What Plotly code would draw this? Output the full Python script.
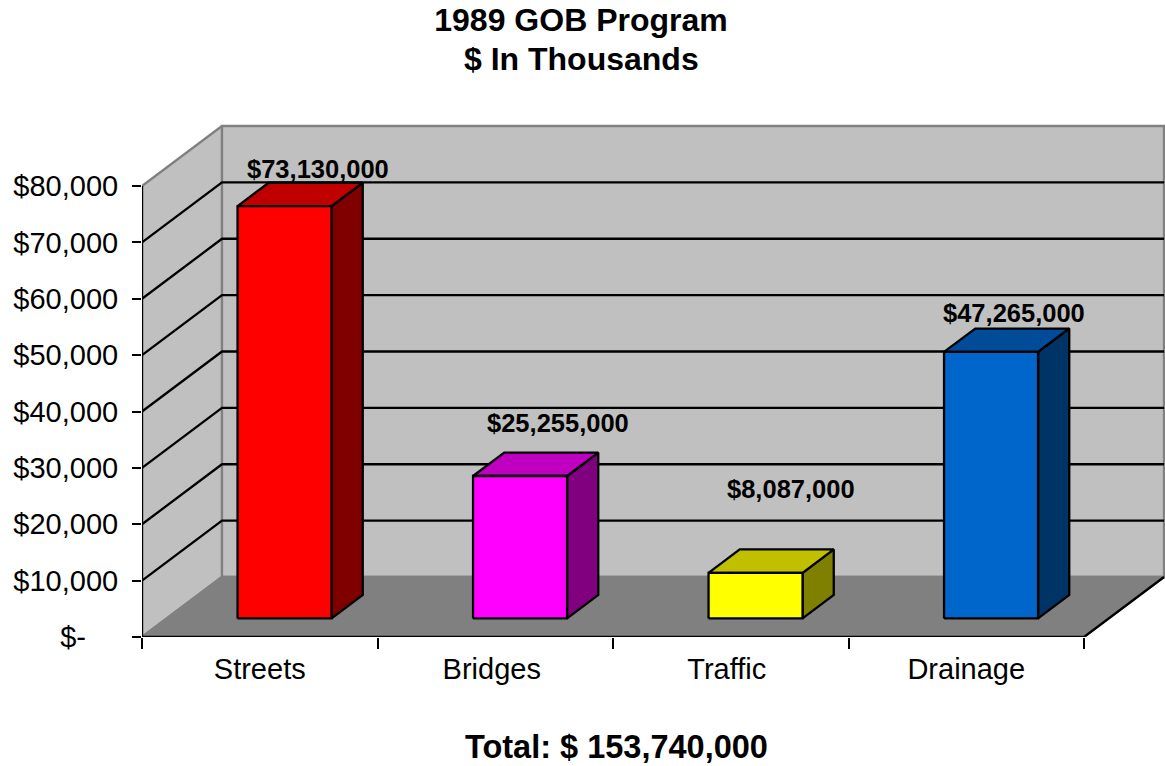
import plotly.graph_objects as go

# ---- data (values in $ thousands) ----
categories = ["Streets", "Bridges", "Traffic", "Drainage"]
values = [73130, 25255, 8087, 47265]
value_labels = ["$73,130,000", "$25,255,000", "$8,087,000", "$47,265,000"]
y_ticks = [0, 10000, 20000, 30000, 40000, 50000, 60000, 70000, 80000]
y_tick_labels = ["$-\u00a0\u00a0\u00a0\u00a0", "$10,000", "$20,000", "$30,000", "$40,000",
                 "$50,000", "$60,000", "$70,000", "$80,000"]
front_colors = ["#FF0000", "#FF00FF", "#FFFF00", "#0066CC"]
top_colors = ["#C00000", "#C000C0", "#C0C000", "#004C99"]
side_colors = ["#800000", "#800080", "#808000", "#003366"]
label_xshift = [2, 7, 4, -8]
label_yshift = [14, 30, 60, 16]
category_label_pos = [0.5, 1.485, 2.483, 3.5]
title_line_1 = "1989 GOB Program"
title_line_2 = "$ In Thousands"
total_text = "Total: $ 153,740,000"

# ---- layout constants ----
W, H = 1165, 766
LEFT, RIGHT_EDGE, BASE, TOP_EDGE = 142, 1165, 637, 120
PX_CAT = 235.5
PX_VAL = 451 / 80000
DEPTH_X, DEPTH_Y = 80 / PX_CAT, 60 / PX_VAL
BAR_HALF = 47 / PX_CAT
BAR_D0, BAR_D1 = 0.31, 0.70
XMAX = (RIGHT_EDGE - LEFT) / PX_CAT
YMAX = (BASE - TOP_EDGE) / PX_VAL
N = len(categories)
VTOP = y_ticks[-1]


def P(x, v, d=0.0):
    return x + d * DEPTH_X, v + d * DEPTH_Y


fig = go.Figure()


def poly(pts, fill=None, color="black", width=2.3):
    xs = [p[0] for p in pts]
    ys = [p[1] for p in pts]
    fig.add_trace(go.Scatter(
        x=xs, y=ys, mode="lines", showlegend=False, hoverinfo="skip",
        fill="toself" if fill else None, fillcolor=fill,
        line=dict(color=color, width=width), cliponaxis=False))


def closed(*pts):
    return list(pts) + [pts[0]]


# walls and floor
poly(closed(P(0, 0), P(0, VTOP), P(0, VTOP, 1), P(0, 0, 1)), "#C0C0C0", "#808080")
poly(closed(P(0, 0, 1), P(0, VTOP, 1), P(N, VTOP, 1), P(N, 0, 1)), "#C0C0C0", "#808080")
poly(closed(P(0, 0), P(0, 0, 1), P(N, 0, 1), P(N, 0)), "#808080", "#808080")

# gridlines on the side wall and the back wall
for v in y_ticks[1:-1]:
    poly([P(0, v), P(0, v, 1), P(N, v, 1)])

# floor front and right edges, value axis line
poly([P(N, 0, 1), P(N, 0), P(0, 0), P(0, VTOP)])

# bars
for i, val in enumerate(values):
    c = i + 0.5
    l, r = c - BAR_HALF, c + BAR_HALF
    poly(closed(P(r, 0, BAR_D0), P(r, val, BAR_D0), P(r, val, BAR_D1), P(r, 0, BAR_D1)), side_colors[i])
    poly(closed(P(l, val, BAR_D0), P(r, val, BAR_D0), P(r, val, BAR_D1), P(l, val, BAR_D1)), top_colors[i])
    poly(closed(P(l, 0, BAR_D0), P(r, 0, BAR_D0), P(r, val, BAR_D0), P(l, val, BAR_D0)), front_colors[i])

font = "Liberation Sans, Arial, sans-serif"
annotations = []
for i, val in enumerate(values):
    x, y = P(i + 0.5, val, BAR_D1)
    annotations.append(dict(
        x=x, y=y, xref="x", yref="y", text=f"<b>{value_labels[i]}</b>", showarrow=False,
        xanchor="center", yanchor="middle", xshift=label_xshift[i], yshift=label_yshift[i],
        font=dict(family=font, size=25.5, color="black")))
annotations.append(dict(
    x=(581 - LEFT) / (RIGHT_EDGE - LEFT), y=(BASE - 59) / (BASE - TOP_EDGE),
    xref="paper", yref="paper", text=f"<b>{title_line_2}</b>", showarrow=False,
    xanchor="center", yanchor="middle", font=dict(family=font, size=32, color="black")))
annotations.append(dict(
    x=(616 - LEFT) / (RIGHT_EDGE - LEFT), y=(BASE - 747) / (BASE - TOP_EDGE),
    xref="paper", yref="paper", text=f"<b>{total_text}</b>", showarrow=False,
    xanchor="center", yanchor="middle", font=dict(family=font, size=32.5, color="black")))

fig.update_layout(
    width=W, height=H, autosize=False,
    paper_bgcolor="white", plot_bgcolor="white", showlegend=False,
    margin=dict(l=LEFT, r=W - RIGHT_EDGE, t=TOP_EDGE, b=H - BASE, pad=0),
    font=dict(family=font, color="black", size=29),
    title=dict(text=f"<b>{title_line_1}</b>", x=581 / W, y=1 - 9 / H,
               xanchor="center", yanchor="top", font=dict(family=font, size=32, color="black")),
    annotations=annotations,
    xaxis=dict(range=[0, XMAX], showgrid=False, zeroline=False, showline=False,
               tickmode="array", tickvals=category_label_pos, ticktext=categories,
               ticks="outside", ticklen=6, tickcolor="rgba(0,0,0,0)",
               tickfont=dict(family=font, size=29, color="black"),
               minor=dict(tickmode="array", tickvals=list(range(N + 1)), ticks="outside",
                          ticklen=11, tickwidth=2, tickcolor="black", showgrid=False)),
    yaxis=dict(range=[0, YMAX], showgrid=False, zeroline=False, showline=False,
               tickmode="array", tickvals=y_ticks, ticktext=y_tick_labels,
               ticks="outside", ticklen=9, tickwidth=2, tickcolor="black",
               ticklabelstandoff=8,
               tickfont=dict(family=font, size=29, color="black")),
)

fig.write_html("out.html", config=dict(displayModeBar=False),
               post_script="document.body.style.margin='0';document.documentElement.style.overflow='hidden';")
